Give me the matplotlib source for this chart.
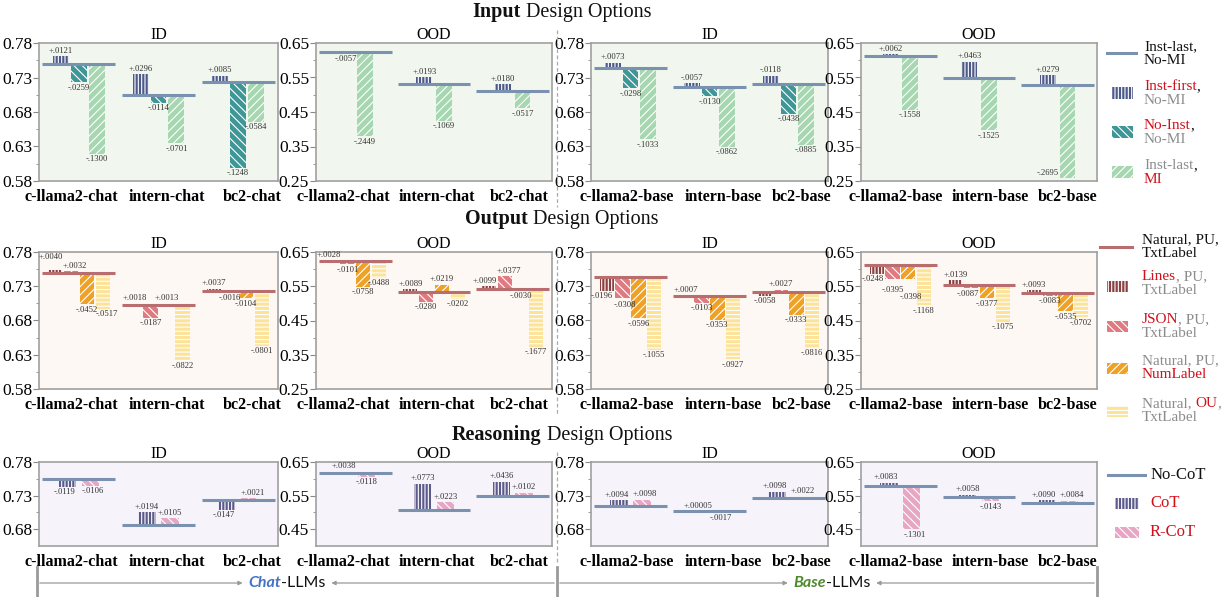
import numpy as np
import matplotlib
matplotlib.use("Agg")
import matplotlib.pyplot as plt
from matplotlib.patches import Rectangle, FancyArrowPatch
from matplotlib.lines import Line2D

W, H = 1227, 597

chat_models = ["c-llama2-chat", "intern-chat", "bc2-chat"]
base_models = ["c-llama2-base", "intern-base", "bc2-base"]

# ---- Input design options ----
in_id_chat_ref = [0.749, 0.705, 0.724]
in_id_chat_first = [+0.0121, +0.0296, +0.0085]
in_id_chat_noinst = [-0.0259, -0.0114, -0.1248]
in_id_chat_mi = [-0.1300, -0.0701, -0.0584]

in_ood_chat_ref = [0.624, 0.532, 0.512]
in_ood_chat_first = [-0.0057, +0.0193, +0.0180]
in_ood_chat_mi = [-0.2449, -0.1069, -0.0517]

in_id_base_ref = [0.744, 0.716, 0.721]
in_id_base_first = [+0.0073, -0.0057, -0.0118]
in_id_base_noinst = [-0.0298, -0.0130, -0.0438]
in_id_base_mi = [-0.1033, -0.0862, -0.0885]

in_ood_base_ref = [0.612, 0.549, 0.529]
in_ood_base_first = [+0.0062, +0.0463, +0.0279]
in_ood_base_mi = [-0.1558, -0.1525, -0.2695]

# ---- Output design options ----
out_id_chat_ref = [0.749, 0.703, 0.723]
out_id_chat_lines = [+0.0040, +0.0018, +0.0037]
out_id_chat_json = [+0.0032, -0.0187, -0.0016]
out_id_chat_num = [-0.0452, +0.0013, -0.0104]
out_id_chat_ou = [-0.0517, -0.0822, -0.0801]

out_ood_chat_ref = [0.624, 0.533, 0.541]
out_ood_chat_lines = [+0.0028, +0.0089, +0.0099]
out_ood_chat_json = [-0.0101, -0.0280, +0.0377]
out_ood_chat_num = [-0.0758, +0.0219, -0.0030]
out_ood_chat_ou = [-0.0488, -0.0202, -0.1677]

out_id_base_ref = [0.743, 0.716, 0.722]
out_id_base_lines = [-0.0196, +0.0007, -0.0058]
out_id_base_json = [-0.0308, -0.0103, +0.0027]
out_id_base_num = [-0.0596, -0.0353, -0.0333]
out_id_base_ou = [-0.1055, -0.0927, -0.0816]

out_ood_base_ref = [0.611, 0.553, 0.530]
out_ood_base_lines = [-0.0248, +0.0139, +0.0093]
out_ood_base_json = [-0.0395, -0.0087, -0.0083]
out_ood_base_num = [-0.0398, -0.0377, -0.0535]
out_ood_base_ou = [-0.1168, -0.1075, -0.0702]

# ---- Reasoning design options ----
rs_id_chat_ref = [0.755, 0.686, 0.724]
rs_id_chat_cot = [-0.0119, +0.0194, -0.0147]
rs_id_chat_rcot = [-0.0106, +0.0105, +0.0021]

rs_ood_chat_ref = [0.617, 0.508, 0.548]
rs_ood_chat_cot = [+0.0038, +0.0773, +0.0436]
rs_ood_chat_rcot = [-0.0118, +0.0223, +0.0102]

rs_id_base_ref = [0.714, 0.707, 0.726]
rs_id_base_cot = [+0.0094, +0.00005, +0.0098]
rs_id_base_rcot = [+0.0098, -0.0017, +0.0022]

rs_ood_base_ref = [0.580, 0.547, 0.527]
rs_ood_base_cot = [+0.0083, +0.0058, +0.0090]
rs_ood_base_rcot = [-0.1301, -0.0143, +0.0084]

# styles: (face colour, hatch)
S_FIRST = ("#4d5a8a", "|||||")
S_NOINST = ("#3f9696", "\\\\\\\\")
S_MI = ("#a6d7b1", "////")
S_LINES = ("#8c4040", "|||||")
S_JSON = ("#df7a80", "\\\\\\\\")
S_NUM = ("#eea125", "////")
S_OU = ("#fde397", "----")
S_COT = ("#5c5a8c", "|||||")
S_RCOT = ("#e7a6c4", "\\\\\\\\")

BLUE_REF = "#7b91b0"
RED_REF = "#b86e6e"
BG_IN = "#f1f7ee"
BG_OUT = "#fdf8f3"
BG_RS = "#f6f4fa"

RED = "#d0101b"
GRAY = "#8c8c8c"
BLACK = "#111111"

plt.rcParams["font.family"] = ["Liberation Serif", "DejaVu Serif"]
plt.rcParams["hatch.linewidth"] = 0.8

fig = plt.figure(figsize=(W / 100, H / 100), dpi=100)

cols = [(39, 278), (316, 552), (591, 828), (861, 1097)]
rows = [(43, 181), (252, 389), (462, 546)]
# horizontal shift (px) of each model name relative to its group
name_shift = [[-8, 8, 14], [-12, 3, 7], [-4, 14, 13], [-5, 11, 10]]


def px_axes(col, row):
    x0, x1 = cols[col]
    y0, y1 = rows[row]
    ax = fig.add_axes([x0 / W, 1 - y1 / H, (x1 - x0) / W, (y1 - y0) / H])
    ax._col = col
    return ax


def fmt(v):
    s = "%+.5f" % v if abs(v) < 0.0001 else "%+.4f" % v
    return s.replace("0.", ".", 1)


def panel(ax, models, ref, series, styles, ylim, ticks, bg, ref_color, title,
          width, step, flip=(), nudge=None):
    nudge = nudge or {}
    ax.set_facecolor(bg)
    n = len(series)
    offs = (np.arange(n) - (n - 1) / 2) * step
    for i in range(len(models)):
        for k in range(n):
            v = series[k][i]
            h = abs(v) if (k, i) in flip else v
            face, hatch = styles[k]
            ax.bar(i + offs[k], h, width, bottom=ref[i], color=face, hatch=hatch,
                   edgecolor="white", linewidth=0, zorder=2)
            dx, dy = nudge.get((k, i), (0, 0))
            ax.annotate(fmt(v), (i + offs[k], ref[i] + h),
                        xytext=(dx, (1 if h >= 0 else -1) + dy), textcoords="offset points",
                        ha="center", va="bottom" if h >= 0 else "top",
                        fontsize=6.2, color="#333333", zorder=4)
        ax.hlines(ref[i], i - 0.46, i + 0.46, color=ref_color, lw=2.2, zorder=3)
    ax.set_xlim(-0.5, 2.5)
    ax.set_ylim(*ylim)
    ax.set_yticks(ticks)
    ax.set_yticklabels(["%.2f" % t for t in ticks])
    minor = [(a + b) / 2 for a, b in zip(ticks[:-1], ticks[1:])]
    ax.set_yticks(minor, minor=True)
    x0, x1 = cols[ax._col]
    unit = (x1 - x0) / 3
    ax.set_xticks([i + s / unit for i, s in enumerate(name_shift[ax._col])])
    ax.set_xticklabels(models, fontweight="bold")
    ax.tick_params(axis="x", length=0, pad=6, labelsize=11.5)
    ax.tick_params(axis="y", which="major", direction="out", length=4,
                   color="#888888", labelsize=12.5, pad=1)
    ax.tick_params(axis="y", which="minor", direction="out", length=2.5, color="#888888")
    for sp in ax.spines.values():
        sp.set_color("#a0a0a0")
        sp.set_linewidth(1.2)
    ax.set_title(title, fontsize=11.5, pad=2)


ID_LIM, OOD_LIM = (0.58, 0.78), (0.25, 0.65)
ID_T, OOD_T = [0.58, 0.63, 0.68, 0.73, 0.78], [0.25, 0.35, 0.45, 0.55, 0.65]

# row 1
panel(px_axes(0, 0), chat_models, in_id_chat_ref,
      [in_id_chat_first, in_id_chat_noinst, in_id_chat_mi], [S_FIRST, S_NOINST, S_MI],
      ID_LIM, ID_T, BG_IN, BLUE_REF, "ID", 0.2, 0.225)
panel(px_axes(1, 0), chat_models, in_ood_chat_ref,
      [in_ood_chat_first, in_ood_chat_mi], [S_FIRST, S_MI],
      OOD_LIM, OOD_T, BG_IN, BLUE_REF, "OOD", 0.2, 0.25)
panel(px_axes(2, 0), base_models, in_id_base_ref,
      [in_id_base_first, in_id_base_noinst, in_id_base_mi], [S_FIRST, S_NOINST, S_MI],
      ID_LIM, ID_T, BG_IN, BLUE_REF, "ID", 0.2, 0.225, flip={(0, 1), (0, 2)})
panel(px_axes(3, 0), base_models, in_ood_base_ref,
      [in_ood_base_first, in_ood_base_mi], [S_FIRST, S_MI],
      OOD_LIM, OOD_T, BG_IN, BLUE_REF, "OOD", 0.2, 0.25,
      nudge={(1, 2): (-14, 7)})

# row 2
OUT_S = [S_LINES, S_JSON, S_NUM, S_OU]
panel(px_axes(0, 1), chat_models, out_id_chat_ref,
      [out_id_chat_lines, out_id_chat_json, out_id_chat_num, out_id_chat_ou], OUT_S,
      ID_LIM, ID_T, BG_OUT, RED_REF, "ID", 0.18, 0.2,
      nudge={(0, 0): (-3, 6), (1, 0): (3, 0), (3, 0): (3, 0)})
panel(px_axes(1, 1), chat_models, out_ood_chat_ref,
      [out_ood_chat_lines, out_ood_chat_json, out_ood_chat_num, out_ood_chat_ou], OUT_S,
      OOD_LIM, OOD_T, BG_OUT, RED_REF, "OOD", 0.18, 0.2,
      nudge={(0, 0): (-2, 0), (0, 2): (-3, 0), (1, 2): (3, 0)})
panel(px_axes(2, 1), base_models, out_id_base_ref,
      [out_id_base_lines, out_id_base_json, out_id_base_num, out_id_base_ou], OUT_S,
      ID_LIM, ID_T, BG_OUT, RED_REF, "ID", 0.18, 0.2,
      nudge={(0, 0): (-4, 0), (1, 0): (2, -1)})
panel(px_axes(3, 1), base_models, out_ood_base_ref,
      [out_ood_base_lines, out_ood_base_json, out_ood_base_num, out_ood_base_ou], OUT_S,
      OOD_LIM, OOD_T, BG_OUT, RED_REF, "OOD", 0.18, 0.2,
      nudge={(0, 0): (-3, 0), (1, 0): (0, -4), (2, 0): (2, -9), (1, 1): (-2, 0)})

# row 3
RS_S = [S_COT, S_RCOT]
RID_LIM, ROOD_LIM = (0.655, 0.78), (0.40, 0.65)
RID_T, ROOD_T = [0.68, 0.73, 0.78], [0.45, 0.55, 0.65]
PAIR = {(0, 0): (-2, 0), (1, 0): (2, 0), (0, 2): (-2, 0), (1, 2): (2, 0)}
panel(px_axes(0, 2), chat_models, rs_id_chat_ref, [rs_id_chat_cot, rs_id_chat_rcot], RS_S,
      RID_LIM, RID_T, BG_RS, BLUE_REF, "ID", 0.22, 0.29, nudge=PAIR)
panel(px_axes(1, 2), chat_models, rs_ood_chat_ref, [rs_ood_chat_cot, rs_ood_chat_rcot], RS_S,
      ROOD_LIM, ROOD_T, BG_RS, BLUE_REF, "OOD", 0.22, 0.29)
panel(px_axes(2, 2), base_models, rs_id_base_ref, [rs_id_base_cot, rs_id_base_rcot], RS_S,
      RID_LIM, RID_T, BG_RS, BLUE_REF, "ID", 0.22, 0.29, nudge=PAIR)
panel(px_axes(3, 2), base_models, rs_ood_base_ref, [rs_ood_base_cot, rs_ood_base_rcot], RS_S,
      ROOD_LIM, ROOD_T, BG_RS, BLUE_REF, "OOD", 0.22, 0.29, nudge=PAIR)

renderer = fig.canvas.get_renderer()


def fx(x):
    return x / W


def fy(y):
    return 1 - y / H


def rich(x, y, parts, size=11, ha="left", **kw):
    """Draw consecutive text pieces on one baseline (pixel coords, y = baseline)."""
    texts, widths = [], []
    for s, c, *extra in parts:
        props = dict(extra[0]) if extra else {}
        props.update(kw)
        t = fig.text(0, fy(y), s, color=c, fontsize=size, va="baseline", **props)
        texts.append(t)
        widths.append(t.get_window_extent(renderer).width)
    x0 = x - sum(widths) / 2 if ha == "center" else x
    for t, w in zip(texts, widths):
        t.set_x(fx(x0))
        x0 += w
    return texts


# section titles
for y, word in [(17, "Input"), (224, "Output"), (440, "Reasoning")]:
    rich(562, y, [(word, BLACK, {"fontweight": "bold"}), (" Design Options", BLACK)],
         size=14.5, ha="center")

# dashed divider between chat and base halves
for y0, y1 in [(30, 207), (247, 415), (452, 563)]:
    fig.add_artist(Line2D([fx(557), fx(557)], [fy(y0), fy(y1)],
                          color="#aaaaaa", lw=0.9, ls=(0, (3, 2))))


def legend_line(x0, x1, y, color):
    fig.add_artist(Line2D([fx(x0), fx(x1)], [fy(y), fy(y)], color=color, lw=2.2))


def legend_patch(x0, x1, y, style):
    face, hatch = style
    fig.add_artist(Rectangle((fx(x0), fy(y + 5.5)), (x1 - x0) / W, 11 / H,
                             transform=fig.transFigure, facecolor=face, hatch=hatch,
                             edgecolor="white", linewidth=0))


def legend_text(x, yc, lines, size=11):
    n = len(lines)
    for j, parts in enumerate(lines):
        yb = yc + (j - (n - 1) / 2) * 13.5 + 4
        rich(x, yb, parts, size=size)


# input legend
legend_line(1107, 1136, 53, BLUE_REF)
legend_text(1144, 53, [[("Inst-last,", BLACK)], [("No-MI", BLACK)]])
legend_patch(1112, 1133, 93, S_FIRST)
legend_text(1144, 93, [[("Inst-first", RED), (",", BLACK)], [("No-MI", GRAY)]])
legend_patch(1112, 1133, 132, S_NOINST)
legend_text(1144, 132, [[("No-Inst", RED), (",", BLACK)], [("No-MI", GRAY)]])
legend_patch(1112, 1133, 172, S_MI)
legend_text(1144, 172, [[("Inst-last", GRAY), (",", BLACK)], [("MI", RED)]])

# output legend
legend_line(1100, 1132, 247, RED_REF)
legend_text(1142, 246, [[("Natural, PU,", BLACK)], [("TxtLabel", BLACK)]])
legend_patch(1107, 1128, 286, S_LINES)
legend_text(1142, 283, [[("Lines", RED), (", PU,", GRAY)], [("TxtLabel", GRAY)]])
legend_patch(1107, 1128, 327, S_JSON)
legend_text(1142, 326, [[("JSON", RED), (", PU,", GRAY)], [("TxtLabel", GRAY)]])
legend_patch(1107, 1128, 368, S_NUM)
legend_text(1142, 367, [[("Natural, PU,", GRAY)], [("NumLabel", RED)]])
legend_patch(1107, 1128, 411, S_OU)
legend_text(1142, 410, [[("Natural, ", GRAY), ("OU", RED), (",", GRAY)], [("TxtLabel", GRAY)]])

# reasoning legend
legend_line(1108, 1145, 475, BLUE_REF)
legend_text(1151, 475, [[("No-CoT", BLACK)]], size=12)
legend_patch(1115, 1139, 503, S_COT)
legend_text(1150, 503, [[("CoT", RED)]], size=12)
legend_patch(1115, 1139, 532, S_RCOT)
legend_text(1150, 532, [[("R-CoT", RED)]], size=12)

# bottom brackets: Chat-LLMs / Base-LLMs
for x in (37, 557, 1097):
    fig.add_artist(Line2D([fx(x), fx(x)], [fy(567), fy(597)], color="#9a9a9a", lw=2))

for xa, xb, xc, word, wcolor in [(37, 557, 287, "Chat", "#4472c4"),
                                 (557, 1097, 832, "Base", "#4e8a2e")]:
    ts = rich(xc, 587, [(word, wcolor, {"fontweight": "bold", "fontstyle": "italic"}),
                        ("-LLMs", BLACK)], size=11.5, ha="center", family="Lato")
    left = ts[0].get_window_extent(renderer).x0
    right = ts[-1].get_window_extent(renderer).x1
    for p, q in [(xa, left - 3), (xb, right + 3)]:
        fig.add_artist(FancyArrowPatch((fx(p), fy(583)), (q / W, fy(583)),
                                       transform=fig.transFigure, arrowstyle="-|>",
                                       mutation_scale=6, color="#9a9a9a", lw=0.9))

fig.savefig("out.png", dpi=100)
